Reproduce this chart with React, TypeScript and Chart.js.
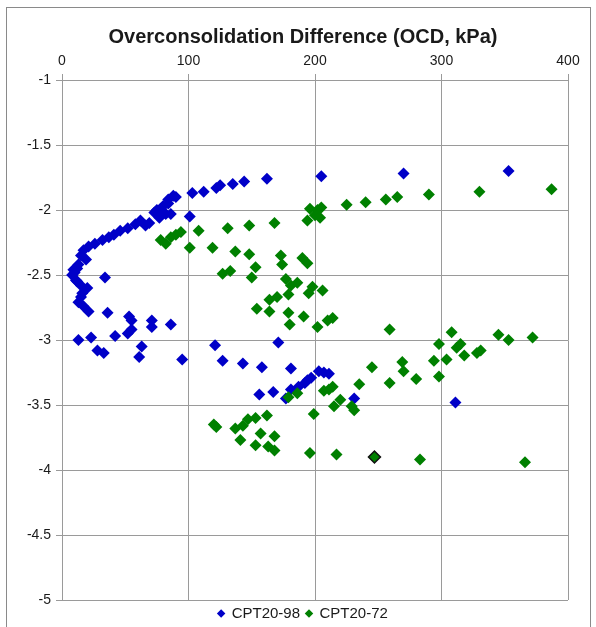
import React, { useEffect, useRef } from "react";
import { Chart, registerables } from "chart.js";

Chart.register(...registerables);

const TITLE = "Overconsolidation Difference (OCD, kPa)";
const SERIES_NAMES = ["CPT20-98", "CPT20-72"];
const X_MIN = 0;
const X_MAX = 400;
const X_STEP = 100;
const Y_MIN = -5;
const Y_MAX = -1;
const Y_STEP = 0.5;

// CPT20-98 (x = OCD kPa, y = depth value)
const cpt2098: [number, number][] = [
  [353, -1.70], [270, -1.72], [205, -1.74], [162, -1.76], [144, -1.78], [135, -1.80],
  [125, -1.81], [122, -1.83], [112, -1.86], [103, -1.87], [88, -1.89], [90, -1.90],
  [84, -1.92], [84, -1.95], [80, -1.97], [78, -1.99], [75, -2.00], [73, -2.02],
  [82, -2.03], [86, -2.03], [101, -2.05], [77, -2.06], [62, -2.08], [69, -2.10],
  [66, -2.12], [58, -2.11], [52, -2.14], [46, -2.16], [41, -2.19], [37, -2.21],
  [32, -2.23], [26, -2.26], [21, -2.28], [17, -2.31], [15, -2.35], [19, -2.38],
  [13, -2.42], [12, -2.45], [9, -2.46], [10, -2.48], [8, -2.50], [11, -2.54],
  [12, -2.55], [15, -2.58], [20, -2.60], [16, -2.64], [15, -2.67], [13, -2.71],
  [17, -2.74], [21, -2.78], [34, -2.52], [36, -2.79], [53, -2.82], [55, -2.85],
  [71, -2.85], [71, -2.90], [86, -2.88], [55, -2.92], [52, -2.95], [42, -2.97],
  [23, -2.98], [13, -3.00], [28, -3.08], [33, -3.10], [63, -3.05], [61, -3.13],
  [95, -3.15], [121, -3.04], [171, -3.02], [127, -3.16], [143, -3.18], [158, -3.21],
  [181, -3.22], [156, -3.42], [167, -3.40], [203, -3.24], [207, -3.25], [211, -3.26],
  [197, -3.29], [194, -3.31], [192, -3.33], [187, -3.36], [181, -3.38], [177, -3.45],
  [231, -3.45], [311, -3.48],
];

// CPT20-72
const cpt2072: [number, number][] = [
  [225, -1.96], [240, -1.94], [256, -1.92], [265, -1.90], [290, -1.88], [330, -1.86],
  [387, -1.84], [196, -1.99], [202, -2.00], [194, -2.08], [204, -2.06], [200, -2.04],
  [205, -1.98], [78, -2.23], [82, -2.26], [86, -2.21], [90, -2.19], [94, -2.17],
  [101, -2.29], [108, -2.16], [119, -2.29], [131, -2.14], [148, -2.12], [168, -2.10],
  [137, -2.32], [148, -2.34], [173, -2.35], [174, -2.42], [153, -2.44], [190, -2.37],
  [194, -2.41], [127, -2.49], [133, -2.47], [150, -2.52], [177, -2.53], [186, -2.56],
  [181, -2.58], [179, -2.65], [195, -2.64], [198, -2.59], [206, -2.62], [170, -2.67],
  [164, -2.69], [154, -2.76], [164, -2.78], [179, -2.79], [191, -2.82], [180, -2.88],
  [202, -2.90], [210, -2.85], [214, -2.83], [259, -2.92], [308, -2.94], [298, -3.03],
  [315, -3.03], [312, -3.06], [318, -3.12], [328, -3.10], [331, -3.08], [345, -2.96],
  [353, -3.00], [372, -2.98], [294, -3.16], [304, -3.15], [298, -3.28], [269, -3.17],
  [270, -3.24], [280, -3.30], [259, -3.33], [245, -3.21], [235, -3.34], [214, -3.36],
  [207, -3.39], [211, -3.38], [220, -3.46], [215, -3.51], [229, -3.51], [231, -3.54],
  [199, -3.57], [186, -3.41], [179, -3.44], [120, -3.65], [122, -3.67], [137, -3.68],
  [143, -3.66], [141, -3.77], [147, -3.61], [153, -3.60], [162, -3.58], [157, -3.72],
  [168, -3.74], [153, -3.81], [163, -3.82], [168, -3.85], [196, -3.87], [217, -3.88],
  [247, -3.90], [283, -3.92], [366, -3.94],
];

// the one CPT20-72 marker drawn with a dark outline
const HIGHLIGHT_72_POINT: [number, number] = [247, -3.90];

const BLUE = "#0000C8";
const GREEN = "#008000";
const GRID = "#9a9a9a";
const TEXT = "#1a1a1a";
const FONT = "'Liberation Sans', Arial, sans-serif";

export default function App() {
  const ref = useRef<HTMLCanvasElement | null>(null);

  useEffect(() => {
    if (!ref.current) return;
    const hi = cpt2072.findIndex(
      ([x, y]) => x === HIGHLIGHT_72_POINT[0] && y === HIGHLIGHT_72_POINT[1]
    );
    const chart = new Chart(ref.current, {
      type: "scatter",
      data: {
        datasets: [
          {
            label: SERIES_NAMES[0],
            data: cpt2098.map(([x, y]) => ({ x, y })),
            backgroundColor: BLUE,
            borderColor: BLUE,
            pointStyle: "rectRot",
            pointRadius: 6,
            pointBorderWidth: 0,
            order: 1,
          },
          {
            label: SERIES_NAMES[1],
            data: cpt2072.map(([x, y]) => ({ x, y })),
            backgroundColor: GREEN,
            borderColor: GREEN,
            pointStyle: "rectRot",
            pointRadius: 6,
            pointBorderColor: (ctx: any) => (ctx.dataIndex === hi ? "#111" : GREEN),
            pointBorderWidth: (ctx: any) => (ctx.dataIndex === hi ? 1.5 : 0),
            order: 0,
          },
        ],
      },
      options: {
        animation: false,
        responsive: false,
        maintainAspectRatio: false,
        layout: { padding: { left: 22, right: 12, top: 0, bottom: -4 } },
        plugins: {
          title: {
            display: true,
            text: TITLE,
            color: TEXT,
            font: { family: FONT, size: 20, weight: "bold" },
            padding: { top: 25, bottom: 0 },
          },
          legend: {
            position: "bottom",
            labels: {
              color: TEXT,
              font: { family: FONT, size: 15 },
              usePointStyle: true,
              pointStyle: "rectRot",
              boxWidth: 6,
              boxHeight: 6,
              padding: 6,
              sort: (a: any, b: any) => a.datasetIndex - b.datasetIndex,
            },
          },
          tooltip: { enabled: false },
        },
        scales: {
          x: {
            type: "linear",
            position: "top",
            min: X_MIN,
            max: X_MAX,
            ticks: {
              stepSize: X_STEP,
              color: TEXT,
              font: { family: FONT, size: 14 },
              padding: 4,
              callback: (v: any) => String(v),
            },
            grid: { color: GRID, lineWidth: 1, tickLength: 6 },
            border: { color: GRID },
            afterFit: (s: any) => {
              s.height = 31;
            },
          },
          y: {
            type: "linear",
            position: "left",
            min: Y_MIN,
            max: Y_MAX,
            ticks: {
              stepSize: Y_STEP,
              color: TEXT,
              font: { family: FONT, size: 14 },
              padding: 5,
              callback: (v: any) => String(v),
            },
            grid: { color: GRID, lineWidth: 1, tickLength: 6 },
            border: { color: GRID },
            afterFit: (s: any) => {
              s.width = 40;
            },
          },
          spacer: {
            type: "linear",
            position: "right",
            display: true,
            grid: { display: false },
            ticks: { display: false },
            border: { display: false },
            afterFit: (s: any) => {
              s.width = 16;
            },
          },
        },
      },
    });
    return () => chart.destroy();
  }, []);

  return (
    <div style={{ position: "fixed", left: 0, top: 0, width: 596, height: 627, background: "#fff" }}>
      <div
        style={{
          position: "absolute",
          left: 6,
          top: 7,
          width: 583,
          height: 620,
          borderLeft: "1px solid #8a8a8a",
          borderTop: "1px solid #8a8a8a",
          borderRight: "1px solid #8a8a8a",
        }}
      />
      <canvas ref={ref} width={596} height={627} style={{ position: "absolute", left: 0, top: 0 }} />
    </div>
  );
}
